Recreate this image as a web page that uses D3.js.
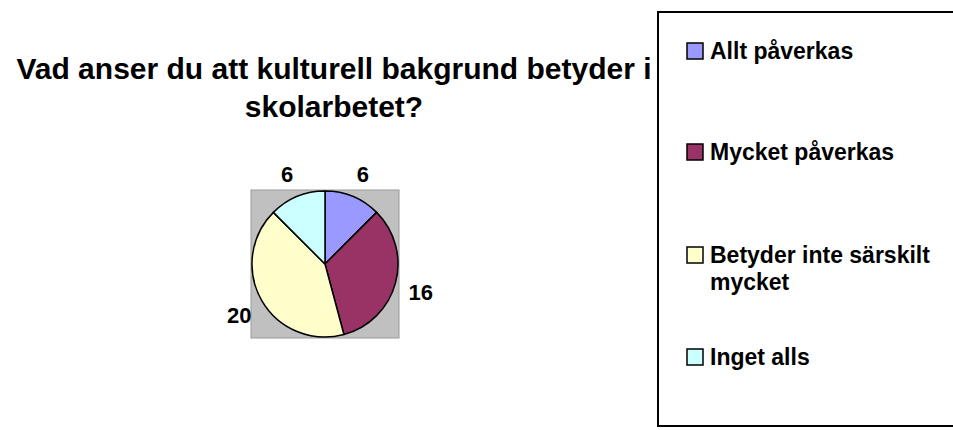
<!DOCTYPE html>
<html>
<head>
<meta charset="utf-8">
<script src="https://cdn.jsdelivr.net/npm/d3@7"></script>
<style>
    body { margin: 0; background: #fff; }
    svg { display: block; font-family: Arial, "Liberation Sans", sans-serif; }
</style>
</head>
<body>
<div id="chart"></div>
<script>
// data
const categories = ["Allt påverkas", "Mycket påverkas", "Betyder inte särskilt mycket", "Inget alls"];
const values = [6, 16, 20, 6];
const colors = ["#9999FF", "#993366", "#FFFFCC", "#CCFFFF"];
const titleLines = ["Vad anser du att kulturell bakgrund betyder i", "skolarbetet?"];
// legend text split the way it wraps in the original
const legendLines = [["Allt påverkas"], ["Mycket påverkas"], ["Betyder inte särskilt", "mycket"], ["Inget alls"]];

const width = 953, height = 430;
const cx = 325, cy = 264, radius = 73;

const svg = d3.select("#chart")
    .append("svg")
    .attr("width", width)
    .attr("height", height);

// title (the legend box is drawn over it later, like in the original)
svg.append("text")
    .attr("text-anchor", "middle")
    .attr("font-size", 30)
    .attr("font-weight", "bold")
    .selectAll("tspan")
    .data(titleLines)
    .enter()
    .append("tspan")
    .attr("x", 334)
    .attr("y", (d, i) => 79 + i * 38)
    .text(d => d);

// grey plot area
svg.append("rect")
    .attr("x", cx - radius - 1)
    .attr("y", cy - radius - 1)
    .attr("width", (radius + 1) * 2)
    .attr("height", (radius + 1) * 2)
    .attr("fill", "#C0C0C0")
    .attr("stroke", "#999")
    .attr("stroke-width", 1);

const pie = d3.pie().sort(null).value(d => d);
const arcs = pie(values);
const arc = d3.arc().innerRadius(0).outerRadius(radius);
const labelArc = d3.arc().innerRadius(99).outerRadius(99);

const g = svg.append("g").attr("transform", `translate(${cx},${cy})`);

g.selectAll(".slice")
    .data(arcs)
    .enter()
    .append("path")
    .attr("class", "slice")
    .attr("d", arc)
    .attr("fill", (d, i) => colors[i])
    .attr("stroke", "#000")
    .attr("stroke-width", 1.5)
    .attr("stroke-linejoin", "round");

g.selectAll(".label")
    .data(arcs)
    .enter()
    .append("text")
    .attr("class", "label")
    .attr("transform", d => `translate(${labelArc.centroid(d)})`)
    .attr("text-anchor", "middle")
    .attr("dy", "0.45em")
    .attr("font-size", 22)
    .attr("font-weight", "bold")
    .text(d => d.data);

// legend
const legend = svg.append("g");
legend.append("rect")
    .attr("x", 658)
    .attr("y", 12)
    .attr("width", 296)
    .attr("height", 414)
    .attr("fill", "#fff")
    .attr("stroke", "#000")
    .attr("stroke-width", 2);

const rowY = [59, 160, 263, 365];
const items = legend.selectAll(".item")
    .data(categories)
    .enter()
    .append("g")
    .attr("class", "item")
    .attr("transform", (d, i) => `translate(687,${rowY[i]})`);

items.append("rect")
    .attr("x", 0)
    .attr("y", -16)
    .attr("width", 16)
    .attr("height", 16)
    .attr("fill", (d, i) => colors[i])
    .attr("stroke", "#000")
    .attr("stroke-width", 1.5);

items.append("text")
    .attr("font-size", 23)
    .attr("font-weight", "bold")
    .selectAll("tspan")
    .data((d, i) => legendLines[i])
    .enter()
    .append("tspan")
    .attr("x", 23)
    .attr("y", (d, j) => j * 27)
    .text(d => d);
</script>
</body>
</html>
